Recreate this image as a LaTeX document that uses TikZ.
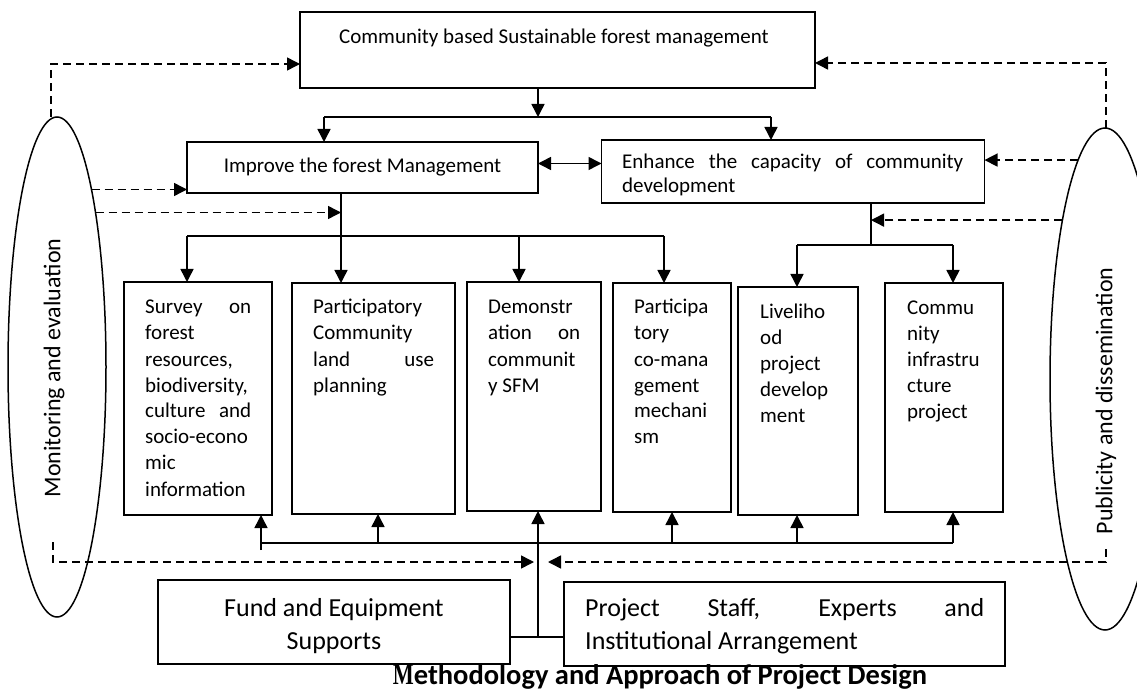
\documentclass[tikz,border=0pt]{standalone}
\usepackage{fontspec}
\setmainfont{Carlito}
\newfontfamily\mfont{Liberation Serif}
\usetikzlibrary{arrows.meta,shapes.geometric}
\newcommand{\jline}[2]{\makebox[#1][s]{#2}}
\newcommand{\fsA}{\fontsize{21}{26}\selectfont}
\newcommand{\fsB}{\fontsize{26}{33}\selectfont}
\newcommand{\fsC}{\fontsize{24}{29}\selectfont}
\newcommand{\fsT}{\fontsize{28.5}{34}\selectfont}
\begin{document}
\begin{tikzpicture}[x=1pt,y=-1pt,
 box/.style={draw, line width=1.8pt, inner sep=0pt, outer sep=0pt},
 conn/.style={line width=1.5pt},
 arr/.style={conn, -{Triangle[length=13pt,width=13pt]}},
 dline/.style={line width=1.5pt, dash pattern=on 8pt off 5pt},
 darr/.style={dline, -{Triangle[length=13pt,width=13pt]}},
 oval/.style={draw, ellipse, line width=1.5pt, inner sep=0pt, outer sep=0pt},
 txt/.style={inner sep=0pt, anchor=base west, font=\fsA},
]
\useasboundingbox (0,0) rectangle (1137,692);
% boxes
\node[box, minimum width=515pt, minimum height=76pt] (top) at (557.5,50) {};
\node[txt] (ttop) at (339,44) {Community based Sustainable forest management};
\node[box, minimum width=351pt, minimum height=51pt, font=\fsA] (imp) at (362.5,167.5) {Improve the forest Management};
\node[box, minimum width=383pt, minimum height=63pt] (enh) at (793,171.5) {};
\begin{scope}
\clip (enh.north west) rectangle (enh.east |- 0,197);
\node[txt] (tenh) at (622,169) {\parbox[t]{345pt}{\jline{341pt}{Enhance the capacity of community}\\[-2pt]development}};
\end{scope}

\node[box, minimum width=148pt, minimum height=233pt] (b1) at (198,398.5) {};
\node[box, minimum width=163pt, minimum height=231pt] (b2) at (373.5,398.5) {};
\node[box, minimum width=134pt, minimum height=229pt] (b3) at (534,396.5) {};
\node[box, minimum width=118pt, minimum height=229pt] (b4) at (672,397.5) {};
\node[box, minimum width=120pt, minimum height=228pt] (b5) at (798,401) {};
\node[box, minimum width=118pt, minimum height=229pt] (b6) at (944,397.5) {};

\node[txt] (t1) at (145,314) {\parbox[t]{110pt}{\raggedright\jline{106pt}{Survey on}\\forest\\resources,\\biodiversity,\\\jline{106pt}{culture and}\\socio-econo\\mic\\information}};
\node[txt] (t2) at (313,314) {\parbox[t]{125pt}{\raggedright Participatory\\Community\\\jline{121pt}{land use}\\planning}};
\node[txt] (t3) at (488,314) {\parbox[t]{95pt}{\raggedright Demonstr\\\jline{92pt}{ation on}\\communit\\y SFM}};
\node[txt] (t4) at (634,314) {\parbox[t]{90pt}{\raggedright Participa\\tory\\co-mana\\gement\\mechani\\sm}};
\node[txt] (t5) at (760,319) {\parbox[t]{90pt}{\raggedright Liveliho\\od\\project\\develop\\ment}};
\node[txt] (t6) at (907,315) {\parbox[t]{90pt}{\raggedright Commu\\nity\\infrastru\\cture\\project}};

\node[box, minimum width=352pt, minimum height=84pt] (fund) at (334,622) {};
\node[inner sep=0pt, anchor=base] (tfund) at (334,616) {\fsB\parbox[t]{340pt}{\centering Fund and Equipment\\Supports}};
\node[box, minimum width=441pt, minimum height=84pt] (proj) at (784.5,624) {};
\node[txt, font=\fsB] (tproj) at (585,616) {\parbox[t]{400pt}{\jline{399pt}{Project Staff, Experts and}\\Institutional Arrangement}};
\node[font=\bfseries\fsT, inner sep=0pt, anchor=base] (title) at (660,684) {{\mfont\scalebox{0.78}[1.05]{M}}ethodology and Approach of Project Design};

% ellipses
\node[oval, minimum width=98pt, minimum height=500pt] (mon) at (57,367) {};
\node[oval, minimum width=110pt, minimum height=502pt] (pub) at (1105,379) {};
\node[rotate=90, font=\fsC, inner sep=0pt] (tmon) at (54,368) {Monitoring and evaluation};
\node[rotate=90, font=\fsC, inner sep=0pt] (tpub) at (1106,401) {Publicity and dissemination};

% top connectors
\coordinate (j0) at (538,117);
\coordinate (jl) at (324,117);
\coordinate (jr) at (771,117);
\draw[arr] (j0 |- top.south) -- (j0);
\draw[conn] (jl) -- (jr);
\draw[arr] (jl) -- (jl |- imp.north);
\draw[arr] (jr) -- (jr |- enh.north);
\draw[conn, {Triangle[length=13pt,width=13pt]}-{Triangle[length=13pt,width=13pt]}] ([yshift=4pt]imp.east) -- ([yshift=4pt]imp.east -| enh.west);

% distribution 1
\coordinate (d1) at (341,236);
\coordinate (p1) at (187,236);
\coordinate (p3) at (519,236);
\coordinate (p4) at (664,236);
\draw[conn] (imp.south -| d1) -- (d1);
\draw[conn] (p1) -- (p4);
\draw[arr] (p1) -- (p1 |- b1.north);
\draw[arr] (d1) -- (d1 |- b2.north);
\draw[arr] (p3) -- (p3 |- b3.north);
\draw[arr] (p4) -- (p4 |- b4.north);

% distribution 2
\coordinate (d2) at (871,245);
\coordinate (q5) at (797,245);
\coordinate (q6) at (953,245);
\draw[conn] (enh.south -| d2) -- (d2);
\draw[conn] (q5) -- (q6);
\draw[arr] (q5) -- (q5 |- b5.north);
\draw[arr] (q6) -- (q6 |- b6.north);

% bottom bus
\coordinate (u1) at (261,550);
\coordinate (bus1) at (261,543);
\coordinate (u2) at (378,543);
\coordinate (u3) at (538,543);
\coordinate (u4) at (672,543);
\coordinate (u5) at (797,543);
\coordinate (u6) at (953,543);
\coordinate (cc) at (538,637);
\draw[conn] (bus1) -- (u6);
\draw[arr] (u1) -- (u1 |- b1.south);
\draw[arr] (u2) -- (u2 |- b2.south);
\draw[arr] (u3) -- (u3 |- b3.south);
\draw[arr] (u4) -- (u4 |- b4.south);
\draw[arr] (u5) -- (u5 |- b5.south);
\draw[arr] (u6) -- (u6 |- b6.south);
\draw[conn] (u3) -- (cc);
\draw[conn] (fund.east |- cc) -- (proj.west |- cc);

% dashed left
\coordinate (lt) at (51,64);
\draw[darr] (mon.north -| lt) -- (lt) -- (lt -| top.west);
\draw[darr] (mon.79.6) -- (mon.79.6 -| imp.west);
\draw[darr] (mon.76) -- (mon.76 -| d1);
\coordinate (lb1) at (53,542);
\coordinate (lb2) at (53,562);
\coordinate (lbe) at (534,562);
\draw[darr] (lb1) -- (lb2) -- (lbe);

% dashed right
\coordinate (rt) at (1106,63);
\draw[darr] (pub.north -| rt) -- (rt) -- (rt -| top.east);
\draw[darr] (pub.97.4) -- (pub.97.4 -| enh.east);
\draw[darr] (pub.105.7) -- (pub.105.7 -| d2);
\coordinate (rb1) at (1106,549);
\coordinate (rb2) at (1106,562);
\coordinate (rbe) at (548,562);
\draw[darr] (rb1) -- (rb2) -- (rbe);
\end{tikzpicture}
\end{document}
